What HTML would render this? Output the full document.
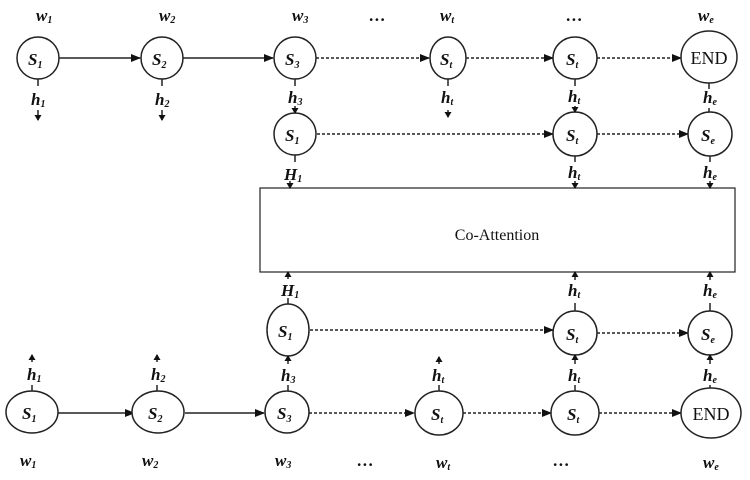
<!DOCTYPE html>
<html><head><meta charset="utf-8"><style>
body{margin:0;background:#fff}
text{font-family:"Liberation Serif",serif;fill:#111}
.v{font-style:italic;font-weight:bold;font-size:17px}
.s{font-size:10px;font-style:italic}
.n{font-size:10px}
</style></head><body>
<svg width="750" height="475" viewBox="0 0 750 475" xmlns="http://www.w3.org/2000/svg">
<defs>
<marker id="a" markerWidth="10" markerHeight="8" refX="9" refY="4" orient="auto" markerUnits="userSpaceOnUse"><path d="M0,0L10,4L0,8z" fill="#111"/></marker>
<marker id="b" markerWidth="6" markerHeight="7" refX="5" refY="3.5" orient="auto" markerUnits="userSpaceOnUse"><path d="M0,0L6,3.5L0,7z" fill="#111"/></marker>
</defs>
<g stroke="#222" stroke-width="1.5" fill="none">
<!-- top row -->
<line x1="59" y1="58" x2="140" y2="58" marker-end="url(#a)"/>
<line x1="183" y1="58" x2="273" y2="58" marker-end="url(#a)"/>
<line x1="316" y1="58" x2="429" y2="58" stroke-dasharray="3,2" marker-end="url(#a)"/>
<line x1="466" y1="58" x2="553" y2="58" stroke-dasharray="3,2" marker-end="url(#a)"/>
<line x1="597" y1="58" x2="681" y2="58" stroke-dasharray="3,2" marker-end="url(#a)"/>
<line x1="317" y1="134" x2="553" y2="134" stroke-dasharray="3,2" marker-end="url(#a)"/>
<line x1="597" y1="134" x2="688" y2="134" stroke-dasharray="3,2" marker-end="url(#a)"/>
<!-- bottom -->
<line x1="58" y1="413" x2="134" y2="413" marker-end="url(#a)"/>
<line x1="185" y1="413" x2="264" y2="413" marker-end="url(#a)"/>
<line x1="309" y1="413" x2="414" y2="413" stroke-dasharray="3,2" marker-end="url(#a)"/>
<line x1="463" y1="413" x2="551" y2="413" stroke-dasharray="3,2" marker-end="url(#a)"/>
<line x1="599" y1="413" x2="681" y2="413" stroke-dasharray="3,2" marker-end="url(#a)"/>
<line x1="310" y1="330" x2="553" y2="330" stroke-dasharray="3,2" marker-end="url(#a)"/>
<line x1="597" y1="333" x2="688" y2="333" stroke-dasharray="3,2" marker-end="url(#a)"/>
<!-- box -->
<rect x="260" y="188" width="475" height="84" stroke-width="1.2"/>
<!-- top circles -->
<circle cx="38" cy="58" r="21" fill="#fff"/>
<circle cx="162" cy="58" r="21" fill="#fff"/>
<circle cx="295" cy="58" r="21" fill="#fff"/>
<ellipse cx="448" cy="58" rx="18" ry="21" fill="#fff"/>
<ellipse cx="575" cy="58" rx="22" ry="21" fill="#fff"/>
<ellipse cx="709" cy="57" rx="28" ry="26" fill="#fff"/>
<circle cx="295" cy="134" r="21" fill="#fff"/>
<circle cx="575" cy="134" r="22" fill="#fff"/>
<circle cx="710" cy="134" r="22" fill="#fff"/>
<!-- bottom -->
<ellipse cx="288" cy="330" rx="21" ry="26" fill="#fff"/>
<ellipse cx="575" cy="333" rx="22" ry="22" fill="#fff"/>
<ellipse cx="710" cy="333" rx="22" ry="22" fill="#fff"/>
<ellipse cx="32" cy="412" rx="26" ry="21" fill="#fff"/>
<ellipse cx="158" cy="412" rx="26" ry="21" fill="#fff"/>
<ellipse cx="287" cy="412" rx="22" ry="21" fill="#fff"/>
<ellipse cx="439" cy="413" rx="24" ry="22" fill="#fff"/>
<ellipse cx="575" cy="413" rx="24" ry="22" fill="#fff"/>
<ellipse cx="711" cy="413" rx="30" ry="25" fill="#fff"/>
<!-- vertical ticks/arrows top -->
<line x1="38" y1="79" x2="38" y2="86"/><line x1="38" y1="110" x2="38" y2="120" marker-end="url(#b)"/>
<line x1="162" y1="79" x2="162" y2="86"/><line x1="162" y1="110" x2="162" y2="120" marker-end="url(#b)"/>
<line x1="295" y1="79" x2="295" y2="86"/><line x1="295" y1="106" x2="295" y2="113" marker-end="url(#b)"/>
<line x1="448" y1="79" x2="448" y2="86"/><line x1="448" y1="110" x2="448" y2="117" marker-end="url(#b)"/>
<line x1="575" y1="79" x2="575" y2="86"/><line x1="575" y1="106" x2="575" y2="112" marker-end="url(#b)"/>
<line x1="709" y1="83" x2="709" y2="89"/><line x1="709" y1="108" x2="709" y2="112"/>
<line x1="295" y1="155" x2="295" y2="162"/><line x1="290" y1="181" x2="290" y2="188" marker-end="url(#b)"/>
<line x1="575" y1="156" x2="575" y2="162"/><line x1="575" y1="181" x2="575" y2="188" marker-end="url(#b)"/>
<line x1="710" y1="156" x2="710" y2="162"/><line x1="710" y1="181" x2="710" y2="188" marker-end="url(#b)"/>
<!-- bottom verticals -->
<line x1="288" y1="279" x2="288" y2="272" marker-end="url(#b)"/><line x1="288" y1="298" x2="288" y2="304"/>
<line x1="575" y1="280" x2="575" y2="272" marker-end="url(#b)"/><line x1="575" y1="303" x2="575" y2="311"/>
<line x1="710" y1="280" x2="710" y2="272" marker-end="url(#b)"/><line x1="710" y1="303" x2="710" y2="311"/>
<line x1="288" y1="364" x2="288" y2="356" marker-end="url(#b)"/><line x1="288" y1="385" x2="288" y2="391"/>
<line x1="575" y1="364" x2="575" y2="355" marker-end="url(#b)"/><line x1="575" y1="385" x2="575" y2="391"/>
<line x1="710" y1="364" x2="710" y2="355" marker-end="url(#b)"/><line x1="710" y1="385" x2="710" y2="388"/>
<line x1="32" y1="362" x2="32" y2="355" marker-end="url(#b)"/><line x1="32" y1="385" x2="32" y2="391"/>
<line x1="157" y1="362" x2="157" y2="355" marker-end="url(#b)"/><line x1="157" y1="385" x2="157" y2="391"/>
<line x1="439" y1="364" x2="439" y2="357" marker-end="url(#b)"/><line x1="439" y1="385" x2="439" y2="391"/>
</g>
<!-- text -->
<g text-anchor="start">
<!-- top w -->
<text x="36" y="21" class="v">w<tspan class="s" dy="2" font-style="normal">1</tspan></text>
<text x="159" y="21" class="v">w<tspan class="s" dy="2" font-style="normal">2</tspan></text>
<text x="292" y="21" class="v">w<tspan class="s" dy="2" font-style="normal">3</tspan></text>
<text x="369" y="21" class="v">…</text>
<text x="440" y="21" class="v">w<tspan class="s" dy="2">t</tspan></text>
<text x="566" y="21" class="v">…</text>
<text x="698" y="21" class="v">w<tspan class="s" dy="2">e</tspan></text>
<!-- bottom w -->
<text x="20" y="466" class="v">w<tspan class="s" dy="2" font-style="normal">1</tspan></text>
<text x="142" y="466" class="v">w<tspan class="s" dy="2" font-style="normal">2</tspan></text>
<text x="275" y="466" class="v">w<tspan class="s" dy="2" font-style="normal">3</tspan></text>
<text x="357" y="466" class="v">…</text>
<text x="436" y="468" class="v">w<tspan class="s" dy="2">t</tspan></text>
<text x="553" y="466" class="v">…</text>
<text x="703" y="468" class="v">w<tspan class="s" dy="2">e</tspan></text>
<!-- S labels top -->
<text x="28" y="65" class="v">S<tspan class="s" dy="3" font-style="normal">1</tspan></text>
<text x="152" y="65" class="v">S<tspan class="s" dy="3" font-style="normal">2</tspan></text>
<text x="285" y="65" class="v">S<tspan class="s" dy="3" font-style="normal">3</tspan></text>
<text x="440" y="65" class="v">S<tspan class="s" dy="3">t</tspan></text>
<text x="566" y="65" class="v">S<tspan class="s" dy="3">t</tspan></text>
<text x="709" y="64" text-anchor="middle" style="font-size:18px">END</text>
<text x="285" y="141" class="v">S<tspan class="s" dy="3" font-style="normal">1</tspan></text>
<text x="566" y="141" class="v">S<tspan class="s" dy="3">t</tspan></text>
<text x="701" y="141" class="v">S<tspan class="s" dy="3">e</tspan></text>
<!-- h labels top -->
<text x="31" y="105" class="v">h<tspan class="s" dy="2" font-style="normal">1</tspan></text>
<text x="155" y="105" class="v">h<tspan class="s" dy="2" font-style="normal">2</tspan></text>
<text x="288" y="103" class="v">h<tspan class="s" dy="2" font-style="normal">3</tspan></text>
<text x="441" y="103" class="v">h<tspan class="s" dy="2">t</tspan></text>
<text x="568" y="102" class="v">h<tspan class="s" dy="2">t</tspan></text>
<text x="703" y="103" class="v">h<tspan class="s" dy="2">e</tspan></text>
<text x="284" y="180" class="v">H<tspan class="s" dy="2" font-style="normal">1</tspan></text>
<text x="568" y="178" class="v">h<tspan class="s" dy="2">t</tspan></text>
<text x="703" y="178" class="v">h<tspan class="s" dy="2">e</tspan></text>
<text x="497" y="240" text-anchor="middle" style="font-size:16px">Co-Attention</text>
<!-- bottom labels -->
<text x="281" y="296" class="v">H<tspan class="s" dy="2" font-style="normal">1</tspan></text>
<text x="568" y="296" class="v">h<tspan class="s" dy="2">t</tspan></text>
<text x="703" y="296" class="v">h<tspan class="s" dy="2">e</tspan></text>
<text x="278" y="337" class="v">S<tspan class="s" dy="3" font-style="normal">1</tspan></text>
<text x="566" y="340" class="v">S<tspan class="s" dy="3">t</tspan></text>
<text x="701" y="340" class="v">S<tspan class="s" dy="3">e</tspan></text>
<text x="281" y="381" class="v">h<tspan class="s" dy="2" font-style="normal">3</tspan></text>
<text x="568" y="381" class="v">h<tspan class="s" dy="2">t</tspan></text>
<text x="703" y="381" class="v">h<tspan class="s" dy="2">e</tspan></text>
<text x="27" y="380" class="v">h<tspan class="s" dy="2" font-style="normal">1</tspan></text>
<text x="151" y="380" class="v">h<tspan class="s" dy="2" font-style="normal">2</tspan></text>
<text x="432" y="381" class="v">h<tspan class="s" dy="2">t</tspan></text>
<text x="22" y="419" class="v">S<tspan class="s" dy="3" font-style="normal">1</tspan></text>
<text x="148" y="419" class="v">S<tspan class="s" dy="3" font-style="normal">2</tspan></text>
<text x="277" y="419" class="v">S<tspan class="s" dy="3" font-style="normal">3</tspan></text>
<text x="431" y="420" class="v">S<tspan class="s" dy="3">t</tspan></text>
<text x="567" y="420" class="v">S<tspan class="s" dy="3">t</tspan></text>
<text x="711" y="420" text-anchor="middle" style="font-size:18px">END</text>
</g>
</svg>
</body></html>
